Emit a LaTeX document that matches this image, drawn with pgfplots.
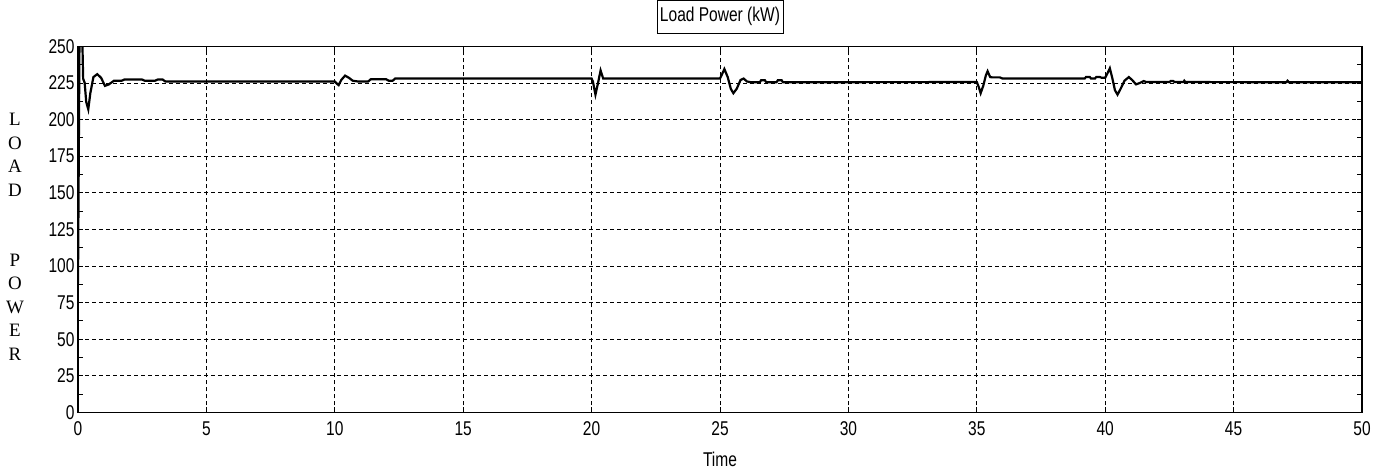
\documentclass[border=0pt]{standalone}
\usepackage{fontspec}
\usepackage{pgfplots}
\pgfplotsset{compat=1.18}
\newfontfamily\narrowsf[FakeStretch=0.78]{Liberation Sans}
\newfontfamily\tnr{Liberation Serif}

\begin{document}
\begin{tikzpicture}
\begin{axis}[
  name=ax,
  scale only axis, width=1284bp, height=366bp,
  xmin=0, xmax=50, ymin=0, ymax=250,
  xtick={0,5,...,50}, ytick={0,25,...,250},
  minor y tick num=1,
  tick align=inside, major tick length=5bp, minor tick length=5bp,
  tick style={black, line width=0.8bp},
  /pgf/number format/assume math mode=true,
  tick label style={font=\narrowsf\fontsize{20}{20}\selectfont},
  x tick label style={yshift=-6bp},
  grid=major,
  major grid style={black, line width=0.8bp, dash pattern=on 4bp off 3bp},
  axis line style={black, line width=1.3bp},
  title={Load Power (kW)},
  title style={draw=black, line width=0.8bp, inner xsep=3bp, inner ysep=7bp,
    font=\narrowsf\fontsize{20}{20}\selectfont,
    at={(0.5,1)}, anchor=south, yshift=7bp},
  xlabel={Time},
  xlabel style={font=\narrowsf\fontsize{20}{20}\selectfont,
    at={(axis description cs:0.5,0)}, anchor=north, yshift=-36bp},
]
\addplot[black, line width=2.2bp] coordinates {
  (0,88) (0.06,262) (0.16,262) (0.2,228) (0.26,225) (0.32,212) (0.4,207)
  (0.48,218) (0.6,229) (0.75,231) (0.9,228.5) (1.05,223) (1.2,224)
  (1.4,226.5) (1.7,226.5) (1.8,227.3) (2.5,227.3) (2.6,226.5) (3.0,226.5)
  (3.1,227.3) (3.3,227.3) (3.4,226)
  (10.0,226) (10.08,224.5) (10.15,223.5) (10.25,227) (10.4,230) (10.55,228.5)
  (10.7,226.5) (10.9,226) (11.3,226) (11.4,227.5) (12.0,227.5) (12.1,226.5)
  (12.25,226.5) (12.35,228)
  (20.0,228) (20.05,226) (20.15,217) (20.25,225) (20.35,233.5) (20.45,228)
  (25.0,228) (25.08,231) (25.17,234.5) (25.3,229) (25.42,221) (25.52,218)
  (25.65,221) (25.8,227) (25.92,228) (26.05,226) (26.2,225.5) (26.55,225.5)
  (26.6,226.8) (26.75,226.8) (26.8,225.5) (27.2,225.5) (27.25,226.8)
  (27.4,226.8) (27.45,225.5)
  (35.0,225.6) (35.08,222) (35.15,218) (35.25,223) (35.35,230) (35.42,233)
  (35.52,229) (35.6,228.8) (35.9,228.8) (36.0,228) (39.2,228) (39.25,229)
  (39.4,229) (39.45,228) (39.6,228) (39.65,229) (39.8,229) (39.85,228.6)
  (40.0,228.6) (40.1,232) (40.18,235) (40.28,228) (40.38,220) (40.48,217)
  (40.6,221) (40.75,226.5) (40.92,229) (41.05,227) (41.2,224) (41.35,225)
  (41.5,226.3) (41.6,225.6) (42.5,225.6) (42.55,226.3) (42.65,226.3)
  (42.7,225.6) (43.05,225.6) (43.08,226.5) (43.12,225.6)
  (47.05,225.5) (47.1,226.5) (47.15,225.5) (50,225.5)
};
\end{axis}
\node[font=\tnr\fontsize{19}{23.5}\selectfont, align=center]
  at ([xshift=-63bp,yshift=-7.5bp]ax.west)
  {L\\O\\A\\D\\[47bp]P\\O\\W\\E\\R};
\path ([xshift=-78bp,yshift=-62bp]ax.south west)
  rectangle ([xshift=28bp,yshift=45bp]ax.north east);
\end{tikzpicture}
\end{document}
